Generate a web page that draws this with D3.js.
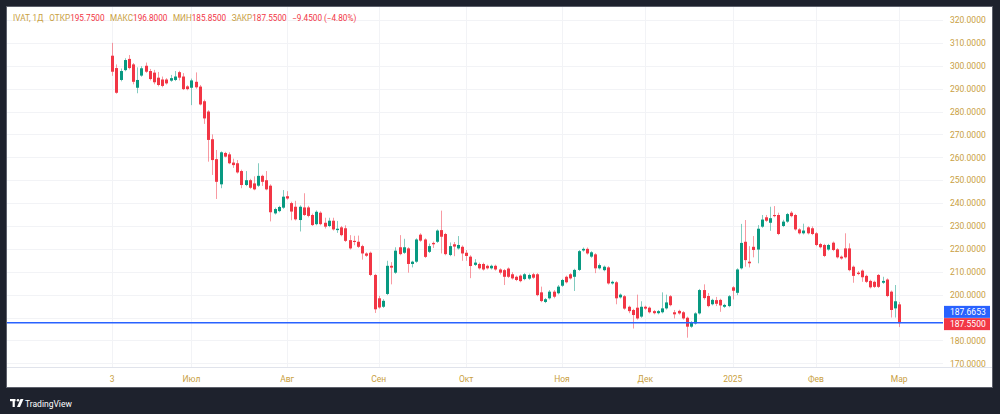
<!DOCTYPE html>
<html>
<head>
<meta charset="utf-8">
<script src="https://cdn.jsdelivr.net/npm/d3@7"></script>
<style>
  body { margin: 0; background: #1e222d; }
  svg { display: block; font-family: Roboto, "Liberation Sans", sans-serif; }
</style>
</head>
<body>
<div id="chart"></div>
<script>
// IVAT, daily candles 03.06.2024 - 03.03.2025
const holidays = ["2024-06-12", "2024-11-04", "2024-12-31", "2025-01-01", "2025-01-02", "2025-01-07"];

const opens = [
  304.4, 299, 293.8, 298.1, 303, 300.6, 290.4, 295.7, 300, 297.7,
  297, 294.8, 294, 294, 293.5, 293.8, 297.2, 295.3, 291, 290.4,
  293, 290.9, 284.5, 280, 267.9, 259.2, 248.2, 261.9, 261.3, 257.7,
  257.4, 254, 247.9, 250, 248.6, 247.6, 251.9, 250, 247.6, 235.5,
  236.5, 238, 243, 240, 238.4, 232.6, 238.1, 238.1, 234.8, 230.8,
  235.8, 231.4, 230, 232.3, 228.2, 229.4, 229, 223.8, 223.5, 223.1,
  221.2, 218, 218.3, 208.6, 198.4, 194.7, 200.3, 212.6, 209.6, 220.7,
  218.3, 220.2, 213.4, 214.4, 226.2, 224.1, 218.7, 222.6, 223.1, 228.2,
  226.5, 217.3, 222, 220.2, 220.9, 218.3, 216.6, 213, 213.4, 213.4,
  212.6, 211.5, 212.6, 211, 210.7, 211.4, 208.9, 207.8, 208.3, 206.8,
  207, 208.9, 208.9, 201, 196.8, 198.4, 201.3, 200.6, 203.9, 207.8,
  208.9, 207.8, 210.8, 219.3, 220, 216.6, 217.6, 211.5, 210.7, 211.9,
  204.9, 205.4, 198.8, 199.3, 194.7, 193.3, 194.3, 190.4, 194.7, 194.3,
  192.8, 191.9, 192.3, 194, 199.3, 192.3, 192.9, 192.3, 189.9, 186,
  187.4, 191.8, 202, 199.4, 195.8, 197.6, 197.7, 194.7, 195, 203.2,
  200.8, 211.5, 223.1, 214.4, 220.9, 219.7, 229.7, 233.8, 231.4, 234.8,
  234.8, 230, 231.9, 235.8, 234.8, 228.5, 226.8, 229.4, 229, 226.8,
  222.1, 221.7, 219.7, 222.7, 219.8, 216.6, 220.2, 220.2, 212.2, 209.6,
  210.5, 208.2, 206, 205.6, 208.6, 205.2, 206.6, 201.3, 194, 195.75
];
const highs = [
  310, 300.6, 298.8, 303.3, 304.7, 301.2, 299.3, 299.8, 301.4, 298.6,
  298.2, 297.3, 295.3, 294.6, 296, 297.7, 297.8, 296.8, 291.5, 294.4,
  297.1, 291.6, 285.2, 280.6, 270, 263.2, 262.6, 262.4, 262.2, 259.4,
  258.8, 254.6, 254, 250.6, 251.7, 257.4, 252.4, 254, 248.2, 238,
  238.8, 245.7, 245.2, 240.6, 241, 239, 244.3, 238.8, 235.4, 236.8,
  236.4, 233.6, 233.6, 233.6, 232.2, 230, 230.3, 226, 225.7, 225.8,
  221.8, 218.5, 218.8, 209.1, 199.5, 198, 214.8, 214.2, 220.7, 226,
  224.4, 220.7, 214.8, 224.6, 226.8, 224.6, 222.3, 223.2, 228.5, 236.7,
  227, 222.8, 223, 225.6, 221.5, 219.5, 217.2, 215.5, 214, 214,
  213.1, 213.1, 213.1, 211.5, 211.2, 211.9, 209.8, 208.3, 208.8, 209.4,
  209.2, 209.5, 209.4, 203.5, 198.5, 202, 202, 204.2, 206.9, 208.3,
  209.4, 211.3, 219.5, 220.6, 220.6, 219, 218.1, 213.6, 212.7, 212.4,
  206.1, 205.9, 200.5, 199.8, 195.2, 193.8, 200, 197.1, 195.2, 194.8,
  193.3, 193.3, 201, 200, 199.8, 193.3, 193.4, 192.8, 190.4, 188.4,
  192.3, 202.5, 204.5, 200.7, 198.2, 199, 198.2, 196, 199.8, 203.7,
  211.5, 230.9, 232.6, 221.2, 225.6, 230.4, 234.8, 234.8, 238.4, 238.7,
  235.8, 232.7, 235.7, 236.5, 235.3, 229, 231, 229.9, 229.8, 227.3,
  222.6, 222.2, 222.2, 223.2, 220.3, 217.1, 226.8, 222.4, 212.7, 210.3,
  211, 208.7, 206.5, 206.1, 209, 207.8, 207.1, 201.8, 204.2, 196.8
];
const lows = [
  295.6, 287.8, 293.2, 297.6, 298.4, 291.9, 288, 295.2, 296.9, 293.6,
  291.9, 291, 290.6, 291.8, 293, 293.3, 293.6, 289.4, 289.3, 282.8,
  290, 282.7, 274.6, 258.1, 252.3, 241.8, 246.5, 260, 257, 255.4,
  252.9, 246.5, 247.4, 246.2, 245.6, 247.1, 247.5, 245.6, 232, 235,
  236, 237.5, 241.5, 232.5, 232.4, 227.6, 234.4, 233.8, 230, 230.3,
  230.3, 228.9, 229.5, 228, 227, 225.5, 223, 219.7, 221.6, 220.4,
  215.3, 216.5, 208.1, 192, 193.9, 194.2, 199.8, 204.5, 209.1, 217.2,
  217.8, 209.6, 211.9, 213.9, 223.1, 216, 218.2, 220.4, 222.6, 218,
  217.2, 216.8, 216.8, 219.7, 214.8, 214.8, 207.2, 212.5, 211, 210.5,
  211, 211, 210.5, 208.8, 204.2, 207.3, 206.6, 205.9, 205.4, 206.3,
  206.5, 206.9, 199.3, 196.7, 196.3, 197.9, 198.4, 200.1, 203.4, 204.9,
  206.6, 201.6, 210.3, 218.8, 217.5, 216.1, 209.4, 211, 210.2, 204.4,
  204.4, 195.8, 198.3, 193.4, 191.9, 185.2, 189.1, 189.9, 193.4, 191.8,
  191.4, 191.4, 191.8, 193.5, 194.9, 189.6, 191.3, 189.1, 181.2, 185.5,
  186.9, 191.3, 197.8, 194.5, 195.3, 195, 192.5, 194.2, 194.5, 197.9,
  199.8, 211, 212.2, 211.9, 216.3, 213.7, 229.2, 231.8, 227.9, 233.8,
  226, 229.5, 231.4, 233.8, 228, 226.3, 226.3, 226.3, 226, 221.2,
  220.2, 216.4, 219.2, 219, 215.8, 215.3, 215.8, 210.2, 205.2, 208.5,
  205.6, 205.1, 202.7, 202.9, 202.9, 204.7, 198.9, 190, 190, 185.85
];
const closes = [
  297.4, 288.2, 297.7, 302.5, 299, 293, 293.8, 298.9, 297.4, 294.2,
  292.8, 291.6, 291.2, 292.3, 294.6, 295.3, 294.8, 289.8, 289.8, 293.6,
  290.6, 283.1, 277, 267.6, 258.8, 249.3, 262.2, 260.3, 257.4, 256.6,
  253.4, 247.9, 250, 246.7, 246, 251.9, 249.3, 246, 236, 237.4,
  238.3, 242.8, 242, 236.3, 232.9, 238.4, 234.8, 234.4, 230.4, 236.2,
  230.8, 229.7, 232.3, 228.5, 228.8, 226, 223.5, 220.2, 223, 220.9,
  218, 217, 208.6, 193.6, 194.4, 197.3, 212.6, 211.8, 219.2, 217.7,
  220.7, 213.4, 214.4, 224.1, 223.6, 216.5, 221.2, 222, 228, 225.3,
  217.7, 221.2, 221, 221.7, 218, 216.9, 212.5, 214, 211.5, 211,
  211.5, 212.6, 211, 209.6, 207.8, 207.8, 207.1, 206.4, 205.9, 208.9,
  208.6, 207.4, 199.8, 197.2, 198, 201.3, 199.1, 203.5, 206.4, 205.4,
  207.1, 210.8, 219, 220, 218, 218.5, 211.5, 212.9, 212.2, 204.9,
  205.6, 198.4, 200, 193.9, 192.8, 191.1, 189.6, 194.7, 193.9, 192.3,
  191.9, 192.8, 194, 196.6, 195.4, 191.4, 191.8, 189.6, 186, 187.9,
  191.8, 202, 198.5, 195, 197.7, 196, 195.3, 195.5, 199.3, 201.7,
  211, 222.6, 215.1, 213.7, 219.5, 228.8, 232.8, 232.3, 233.4, 234.3,
  226.5, 231.9, 235.2, 234.3, 228.5, 226.8, 228, 226.8, 226.5, 221.7,
  220.7, 216.9, 221.7, 219.5, 216.3, 215.8, 216.3, 210.7, 208.2, 209,
  207.6, 205.6, 203.2, 203.4, 203.4, 206, 199.4, 193.3, 197.1, 187.55
];

const tickDates = ["2024-06-03", "2024-07-01", "2024-08-01", "2024-09-02", "2024-10-01",
  "2024-11-01", "2024-12-02", "2025-01-03", "2025-02-03", "2025-03-03"];
const tickLabels = ["3", "Июл", "Авг", "Сен", "Окт", "Ноя", "Дек", "2025", "Фев", "Мар"];
const priceTicks = [170, 180, 190, 200, 210, 220, 230, 240, 250, 260, 270, 280, 290, 300, 310, 320];
const markLine = 187.6653;

// trading days: weekdays without exchange holidays
const dates = [];
const day = new Date(Date.UTC(2024, 5, 3));
while (dates.length < closes.length) {
  const s = day.toISOString().slice(0, 10);
  const wd = day.getUTCDay();
  if (wd !== 0 && wd !== 6 && !holidays.includes(s)) dates.push(s);
  day.setUTCDate(day.getUTCDate() + 1);
}
const candles = dates.map((d, i) => ({ date: d, o: opens[i], h: highs[i], l: lows[i], c: closes[i] }));

const width = 1000, height = 414;
const up = "#089981", down = "#f23645", gold = "#c9a042";
const plotRight = 943, axisTop = 367;
const fs = 8.5;

const svg = d3.select("#chart").append("svg")
  .attr("width", width)
  .attr("height", height);

svg.append("rect").attr("width", width).attr("height", height).attr("fill", "#1e222d");
svg.append("rect")
  .attr("x", 6.5).attr("y", 6.5).attr("width", 986).attr("height", 381)
  .attr("fill", "#ffffff").attr("stroke", "#5d606b");

const x = d3.scaleBand()
  .domain(dates)
  .range([109.6, 901.9])
  .padding(0.28);

const y = d3.scaleLinear()
  .domain([170, 320])
  .range([363.3, 20]);

// grid
svg.append("g").selectAll("line")
  .data(priceTicks)
  .join("line")
  .attr("x1", 7).attr("x2", plotRight)
  .attr("y1", d => Math.round(y(d)) + 0.5).attr("y2", d => Math.round(y(d)) + 0.5)
  .attr("stroke", "#f2f3f6");

svg.append("g").selectAll("line")
  .data(tickDates)
  .join("line")
  .attr("x1", d => Math.round(x(d) + x.bandwidth() / 2) + 0.5)
  .attr("x2", d => Math.round(x(d) + x.bandwidth() / 2) + 0.5)
  .attr("y1", 7).attr("y2", axisTop)
  .attr("stroke", "#f2f3f6");

svg.append("line")
  .attr("x1", 7).attr("x2", 992)
  .attr("y1", axisTop + 0.5).attr("y2", axisTop + 0.5)
  .attr("stroke", "#e0e3eb");

// candles
const cg = svg.append("g").selectAll("g")
  .data(candles)
  .join("g");

cg.append("line")
  .attr("x1", d => Math.round(x(d.date) + x.bandwidth() / 2) + 0.5)
  .attr("x2", d => Math.round(x(d.date) + x.bandwidth() / 2) + 0.5)
  .attr("y1", d => y(d.h))
  .attr("y2", d => y(d.l))
  .attr("stroke", d => d.c >= d.o ? up : down)
  .attr("stroke-opacity", 0.5)
  .attr("stroke-width", 1);

cg.append("rect")
  .attr("x", d => Math.round(x(d.date) + x.bandwidth() / 2) - 1)
  .attr("width", 3)
  .attr("y", d => y(Math.max(d.o, d.c)))
  .attr("height", d => Math.max(1, Math.abs(y(d.o) - y(d.c))))
  .attr("fill", d => d.c >= d.o ? up : down);

// marked level
svg.append("line")
  .attr("x1", 7).attr("x2", plotRight)
  .attr("y1", y(markLine)).attr("y2", y(markLine))
  .attr("stroke", "#2962ff")
  .attr("stroke-width", 1.5);

// price axis
const yAxis = svg.append("g")
  .attr("transform", `translate(${plotRight + 7},0)`)
  .call(d3.axisRight(y).tickValues(priceTicks.filter(d => d !== 190)).tickFormat(d3.format(".4f")).tickSize(0));
yAxis.select(".domain").remove();
yAxis.selectAll("text")
  .attr("x", 0)
  .attr("fill", gold)
  .attr("font-size", fs)
  .attr("font-family", "Roboto, sans-serif");

const boxes = [
  { label: "187.6653", fill: "#2962ff", yc: y(markLine) - 11 },
  { label: "187.5500", fill: down, yc: y(closes[closes.length - 1]) + 1 }
];
const bg = svg.append("g").selectAll("g").data(boxes).join("g");
bg.append("rect")
  .attr("x", 944).attr("width", 46)
  .attr("y", d => d.yc - 6).attr("height", 12)
  .attr("fill", d => d.fill);
bg.append("text")
  .attr("x", 950).attr("y", d => d.yc)
  .attr("dy", "0.35em")
  .attr("fill", "#ffffff")
  .attr("font-size", fs)
  .text(d => d.label);

// time axis
const xAxis = svg.append("g")
  .attr("transform", `translate(0,${axisTop + 6})`)
  .call(d3.axisBottom(x).tickValues(tickDates).tickFormat((d, i) => tickLabels[i]).tickSize(0));
xAxis.select(".domain").remove();
xAxis.selectAll("text")
  .attr("fill", gold)
  .attr("font-size", fs)
  .attr("font-family", "Roboto, sans-serif");

// legend line
const legend = svg.append("text")
  .attr("x", 13).attr("y", 21)
  .attr("font-size", 8.2);
const parts = [
  ["IVAT, 1Д", gold, 0], ["ОТКР", gold, 6], ["195.7500", down, 0],
  ["МАКС", gold, 5.5], ["196.8000", down, 0], ["МИН", gold, 5.5], ["185.8500", down, 0],
  ["ЗАКР", gold, 5.5], ["187.5500", down, 0], ["−9.4500 (−4.80%)", down, 5.5]
];
legend.selectAll("tspan")
  .data(parts)
  .join("tspan")
  .attr("dx", d => d[2])
  .attr("fill", d => d[1])
  .text(d => d[0]);

// footer logo
const logo = svg.append("g").attr("transform", "translate(10,399)");
logo.append("rect").attr("x", 0).attr("y", 0).attr("width", 5.5).attr("height", 2.2).attr("fill", "#ffffff");
logo.append("rect").attr("x", 2.6).attr("y", 0).attr("width", 2.2).attr("height", 8).attr("fill", "#ffffff");
logo.append("circle").attr("cx", 8).attr("cy", 1.2).attr("r", 1.3).attr("fill", "#ffffff");
logo.append("path").attr("d", "M10.5,0 L13.5,0 L10,8 L7,8 Z").attr("fill", "#ffffff");
svg.append("text")
  .attr("x", 25).attr("y", 407)
  .attr("fill", "#ffffff")
  .attr("font-size", fs)
  .text("TradingView");
</script>
</body>
</html>
